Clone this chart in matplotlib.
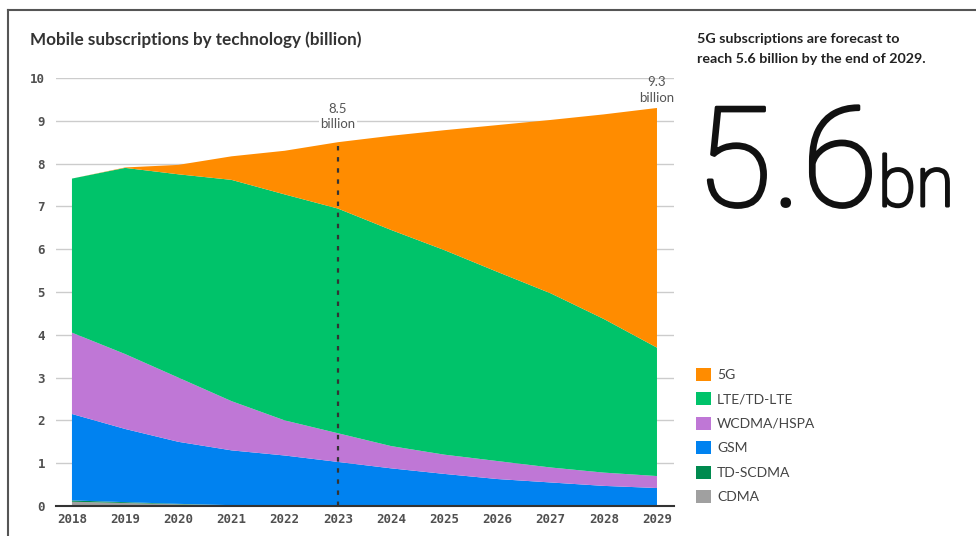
import matplotlib
matplotlib.use("Agg")
import matplotlib.pyplot as plt
import matplotlib.patheffects as pe
from matplotlib.lines import Line2D
from matplotlib.patches import Patch

# Mobile subscriptions by technology, billions
years = [2018, 2019, 2020, 2021, 2022, 2023, 2024, 2025, 2026, 2027, 2028, 2029]
cdma = [0.10, 0.07, 0.04, 0.02, 0.01, 0.0, 0.0, 0.0, 0.0, 0.0, 0.0, 0.0]
td_scdma = [0.03, 0.02, 0.01, 0.0, 0.0, 0.0, 0.0, 0.0, 0.0, 0.0, 0.0, 0.0]
gsm = [2.02, 1.71, 1.45, 1.28, 1.17, 1.03, 0.88, 0.75, 0.63, 0.55, 0.47, 0.42]
wcdma = [1.90, 1.75, 1.50, 1.15, 0.82, 0.67, 0.52, 0.45, 0.42, 0.35, 0.31, 0.28]
lte = [3.60, 4.35, 4.75, 5.17, 5.28, 5.25, 5.05, 4.78, 4.42, 4.07, 3.59, 3.00]
nr_5g = [0.0, 0.01, 0.22, 0.55, 1.02, 1.55, 2.20, 2.80, 3.43, 4.05, 4.78, 5.60]

labels = ["5G", "LTE/TD-LTE", "WCDMA/HSPA", "GSM", "TD-SCDMA", "CDMA"]
colors = ["#ff8c00", "#00c36a", "#bf77d6", "#0082f0", "#008a4f", "#a0a0a0"]

# callouts
mark_year = 2023
mark_total = 8.5
end_total = 9.3
headline = "5.6"

fig = plt.figure(figsize=(9.76, 5.36), dpi=100)
ax = fig.add_axes([56 / 976, 1 - 506 / 536, 618 / 976, 428 / 536])

series = [cdma, td_scdma, gsm, wcdma, lte, nr_5g]
ax.stackplot(years, *series, colors=colors[::-1], linewidth=0, zorder=2)

ax.set_xlim(2017.70, 2029.32)
ax.set_ylim(0, 10)
ax.set_xticks(years)
ax.set_yticks(range(0, 11))
ax.grid(axis="y", color="#cccccc", linewidth=1, zorder=0)
ax.tick_params(axis="both", length=0, labelsize=9, labelcolor="#505050")
ax.tick_params(axis="y", pad=8)
ax.tick_params(axis="x", pad=5)
for lbl in ax.get_xticklabels() + ax.get_yticklabels():
    lbl.set_family("DejaVu Sans Mono")
    lbl.set_fontweight("bold")
for side in ["top", "right", "left"]:
    ax.spines[side].set_visible(False)
ax.spines["bottom"].set_color("#333333")
ax.spines["bottom"].set_linewidth(1.5)
ax.spines["bottom"].set_zorder(3)

# dotted marker for 2023
ax.plot([mark_year, mark_year], [0, mark_total], color="#333333",
        linestyle=(0, (2, 3)), linewidth=1.6, zorder=4)
ax.text(mark_year, 9.1, f"{mark_total}\nbillion", ha="center", va="center",
        fontsize=9.5, color="#555555", family="Lato", linespacing=1.35,
        bbox=dict(facecolor="white", edgecolor="none", pad=1), zorder=5)
ax.text(years[-1], 9.72, f"{end_total}\nbillion", ha="center", va="center",
        fontsize=9.5, color="#555555", family="Lato", linespacing=1.35,
        clip_on=False, zorder=5)

fig.text(30 / 976, 1 - 40 / 536, "Mobile subscriptions by technology (billion)",
         fontsize=12.3, fontweight="bold", color="#333333", family="Lato",
         va="center")

fig.text(697 / 976, 1 - 49 / 536,
         "5G subscriptions are forecast to\nreach 5.6 billion by the end of 2029.",
         fontsize=10.3, fontweight="bold", color="#222222", family="Lato",
         va="center", linespacing=1.75)

# big headline figure: thin face thickened with a stroke
thicken = [pe.withStroke(linewidth=2.2, foreground="#111111")]
fig.text(696 / 976, 1 - 206 / 536, headline, fontsize=100,
         fontweight="light", color="#111111", family="Roboto",
         va="baseline", path_effects=thicken)
fig.text(878 / 976, 1 - 206 / 536, "bn", fontsize=50, fontweight="light",
         color="#111111", family="Roboto", va="baseline",
         path_effects=thicken)

# legend
handles = [Patch(facecolor=c, edgecolor="none") for c in colors]
leg = fig.legend(handles, labels, loc="upper left",
                 bbox_to_anchor=(683 / 976, 1 - 355 / 536), frameon=False,
                 handlelength=1.1, handleheight=1.1, handletextpad=0.45,
                 labelspacing=0.8, prop={"family": "Lato", "size": 10})
for t in leg.get_texts():
    t.set_color("#444444")

# outer frame on left and top
fig.add_artist(Line2D([8 / 976, 8 / 976], [0, 1 - 10 / 536], color="#555555",
                      linewidth=1.5, transform=fig.transFigure))
fig.add_artist(Line2D([8 / 976, 1], [1 - 10 / 536, 1 - 10 / 536],
                      color="#555555", linewidth=1.5, transform=fig.transFigure))

fig.savefig("out.png", dpi=100)
